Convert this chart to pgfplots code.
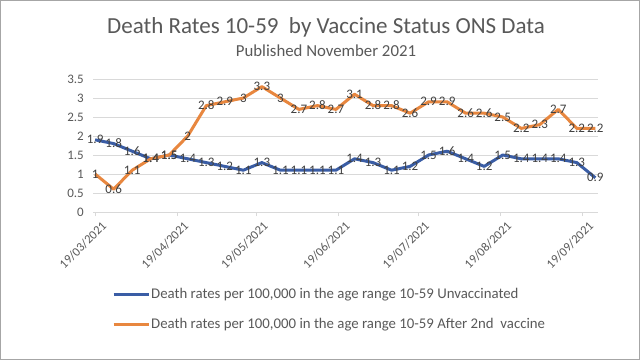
\documentclass[border=0pt]{standalone}
\usepackage{fontspec}
\setmainfont{Carlito}
\usepackage{pgfplots}
\usepackage{pgfplotstable}
\pgfplotsset{compat=1.18}
\definecolor{txtgray}{HTML}{595959}
\definecolor{lblgray}{HTML}{404040}
\definecolor{gridgray}{HTML}{D9D9D9}
\definecolor{sblue}{HTML}{3A5DA5}
\definecolor{sorange}{HTML}{E8873F}
\pgfplotstableread{
day unvax vax
0 1.9 1
7 1.8 0.6
14 1.6 1.1
21 1.4 1.4
28 1.5 1.5
35 1.4 2
42 1.3 2.8
49 1.2 2.9
56 1.1 3
63 1.3 3.3
70 1.1 3
77 1.1 2.7
84 1.1 2.8
91 1.1 2.7
98 1.4 3.1
105 1.3 2.8
112 1.1 2.8
119 1.2 2.6
126 1.5 2.9
133 1.6 2.9
140 1.4 2.6
147 1.2 2.6
154 1.5 2.5
161 1.4 2.2
168 1.4 2.3
175 1.4 2.7
182 1.3 2.2
189 0.9 2.2
}\data
\begin{document}
\begin{tikzpicture}[x=1pt,y=1pt]
\useasboundingbox (0,0) rectangle (640,360);
\fill[white] (0,0) rectangle (640,360);
\draw[gray!70, line width=1pt] (0.5,0.5) rectangle (639.5,359.5);
\node[text=txtgray, font=\fontsize{23}{27}\selectfont] at (326,333) {Death Rates 10-59\ \ by Vaccine Status ONS Data};
\node[text=txtgray, font=\fontsize{16.8}{20}\selectfont] at (326,309) {Published November 2021};
\begin{axis}[
  at={(93pt,148pt)}, anchor=south west,
  scale only axis, width=505pt, height=133pt,
  xmin=-0.8, xmax=190, ymin=0, ymax=3.5,
  clip=false,
  /pgf/number format/assume math mode=true,
  axis lines*=left,
  y axis line style={draw=none},
  x axis line style={gridgray, line width=0.8pt},
  ytick={0,0.5,1,1.5,2,2.5,3,3.5},
  yticklabels={0,0.5,1,1.5,2,2.5,3,3.5},
  ytick style={draw=none},
  ymajorgrids,
  grid style={gridgray, line width=0.8pt},
  xtick={0,31,61,92,122,153,184},
  xticklabels={19/03/2021,19/04/2021,19/05/2021,19/06/2021,19/07/2021,19/08/2021,19/09/2021},
  xtick style={gridgray, line width=0.8pt},
  xtick align=outside,
  major tick length=4pt,
  yticklabel style={font=\fontsize{13}{15}\selectfont, text=txtgray, inner sep=0pt, xshift=-9pt},
  xticklabel style={rotate=45, anchor=east, font=\fontsize{12.5}{14}\selectfont, text=txtgray, inner sep=0pt, yshift=-12pt, xshift=1pt},
  nodes near coords,
  every node near coord/.append style={anchor=center, font=\fontsize{13}{15}\selectfont, text=lblgray, inner sep=0pt},
  legend style={at={(0.0376,-0.565)}, anchor=north west, draw=none, fill=none,
     font=\fontsize{14.8}{18}\selectfont, text=txtgray, row sep=16pt, inner sep=0pt,
     nodes={inner sep=1pt}},
  legend cell align=left,
  legend image code/.code={\draw[#1, line width=3pt] (0pt,0pt) -- (35pt,0pt);},
]
\addplot[sblue, line width=3pt, line join=round] table[x=day, y=unvax] {\data};
\addlegendentry{Death rates per 100,000 in the age range 10-59 Unvaccinated}
\addplot[sorange, line width=3pt, line join=round] table[x=day, y=vax] {\data};
\addlegendentry{Death rates per 100,000 in the age range 10-59 After 2nd\ \ vaccine}
\end{axis}
\end{tikzpicture}
\end{document}
